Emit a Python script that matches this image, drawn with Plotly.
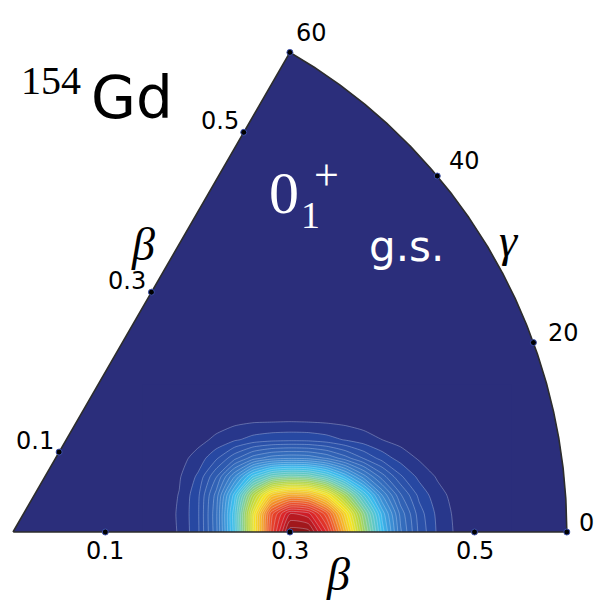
import numpy as np
import plotly.graph_objects as go

# ---- data -------------------------------------------------------------
beta_max = 0.6
gamma_max = 60
beta_ticks = [0.1, 0.3, 0.5]
gamma_ticks = [0, 20, 40, 60]

# collective density |psi|^2 on a cartesian (x = b cos g, y = b sin g) grid
grid_x = [0.14, 0.16, 0.18, 0.20, 0.22, 0.24, 0.26, 0.28, 0.30, 0.32, 0.34,
          0.36, 0.38, 0.40, 0.42, 0.44, 0.46, 0.48, 0.50, 0.52, 0.54]
grid_y = [0.00, 0.02, 0.04, 0.06, 0.08, 0.10, 0.12, 0.14, 0.16]
density = [
    [0, 0.006, 0.022, 0.063, 0.161, 0.334, 0.583, 0.830, 0.985, 0.980, 0.869, 0.685, 0.487, 0.310, 0.174, 0.089, 0.041, 0.016, 0.006, 0.002, 0],
    [0, 0.006, 0.023, 0.064, 0.163, 0.338, 0.582, 0.811, 0.919, 0.903, 0.801, 0.631, 0.449, 0.285, 0.161, 0.082, 0.038, 0.014, 0.005, 0.002, 0],
    [0, 0.006, 0.021, 0.062, 0.154, 0.308, 0.504, 0.655, 0.706, 0.693, 0.615, 0.484, 0.344, 0.219, 0.123, 0.063, 0.029, 0.011, 0.004, 0.001, 0],
    [0, 0.005, 0.017, 0.049, 0.117, 0.219, 0.331, 0.404, 0.426, 0.417, 0.370, 0.291, 0.207, 0.132, 0.074, 0.038, 0.017, 0.007, 0.002, 0.001, 0],
    [0, 0.003, 0.011, 0.029, 0.065, 0.112, 0.158, 0.184, 0.192, 0.188, 0.167, 0.131, 0.093, 0.059, 0.034, 0.017, 0.008, 0.003, 0.001, 0, 0],
    [0, 0.002, 0.005, 0.012, 0.025, 0.041, 0.054, 0.061, 0.063, 0.062, 0.055, 0.043, 0.031, 0.020, 0.011, 0.006, 0.003, 0.001, 0, 0, 0],
    [0, 0.001, 0.002, 0.005, 0.009, 0.013, 0.017, 0.018, 0.019, 0.018, 0.016, 0.013, 0.009, 0.006, 0.003, 0.002, 0.001, 0, 0, 0, 0],
    [0, 0, 0.001, 0.001, 0.002, 0.003, 0.004, 0.004, 0.004, 0.004, 0.004, 0.003, 0.002, 0.001, 0.001, 0, 0, 0, 0, 0, 0],
    [0, 0, 0, 0, 0, 0, 0, 0, 0, 0, 0, 0, 0, 0, 0, 0, 0, 0, 0, 0, 0],
]

# ---- style --------------------------------------------------------------
NAVY = "rgb(43,46,123)"
W, H = 599, 604
X0, Y0, SCALE = 13, 532, 923          # pixel position of the origin, px per unit beta

colorscale = [
    [0.000, NAVY],
    [0.008, NAVY],
    [0.018, "rgb(36,64,156)"],
    [0.060, "rgb(42,80,168)"],
    [0.120, "rgb(50,100,182)"],
    [0.180, "rgb(56,122,198)"],
    [0.240, "rgb(60,152,218)"],
    [0.300, "rgb(58,190,238)"],
    [0.400, "rgb(108,204,178)"],
    [0.500, "rgb(175,214,68)"],
    [0.600, "rgb(246,230,30)"],
    [0.700, "rgb(248,170,35)"],
    [0.800, "rgb(238,82,40)"],
    [0.900, "rgb(215,30,40)"],
    [1.000, "rgb(128,20,20)"],
]


def pol(beta, gamma_deg):
    g = np.deg2rad(gamma_deg)
    return beta * np.cos(g), beta * np.sin(g)


# sector outline: origin -> gamma=0 -> arc -> gamma=60 -> origin
arc_g = np.linspace(0, gamma_max, 361)
arc_x, arc_y = pol(beta_max, arc_g)
sx = np.concatenate([[0.0], arc_x, [0.0]])
sy = np.concatenate([[0.0], arc_y, [0.0]])
sector_path = "M " + " L ".join(f"{a:.5f},{b:.5f}" for a, b in zip(sx, sy)) + " Z"

fig = go.Figure()

fig.add_trace(go.Contour(
    x=grid_x, y=grid_y, z=density,
    zmin=0, zmax=1, zauto=False,
    colorscale=colorscale, showscale=False,
    contours=dict(start=0.02, end=1.0, size=0.025, coloring="fill"),
    line=dict(color="rgba(225,235,255,0.4)", width=0.8, smoothing=0.6),
    hoverinfo="skip",
))

fig.add_trace(go.Scatter(x=sx, y=sy, mode="lines",
                         line=dict(color="rgb(45,45,45)", width=1.6),
                         hoverinfo="skip", showlegend=False))

# tick markers on the three edges
tx, ty = [], []
for b in beta_ticks:
    tx.append(b); ty.append(0.0)
    px_, py_ = pol(b, gamma_max)
    tx.append(px_); ty.append(py_)
for g in gamma_ticks:
    px_, py_ = pol(beta_max, g)
    tx.append(px_); ty.append(py_)
fig.add_trace(go.Scatter(x=tx, y=ty, mode="markers",
                         marker=dict(size=6, color="black",
                                     line=dict(color="rgb(60,80,170)", width=1)),
                         hoverinfo="skip", showlegend=False))

ann = []
tick_font = dict(family="DejaVu Sans", size=24, color="black")
for b in beta_ticks:
    ann.append(dict(x=b, y=0, text=f"{b:.1f}", showarrow=False, font=tick_font,
                    xanchor="center", yanchor="middle", yshift=-19))
    px_, py_ = pol(b, gamma_max)
    ann.append(dict(x=px_, y=py_, text=f"{b:.1f}", showarrow=False, font=tick_font,
                    xanchor="center", yanchor="middle", xshift=-24, yshift=11))
gamma_shift = {0: (20, 9), 20: (30, 10), 40: (27, 15), 60: (22, 19)}
for g in gamma_ticks:
    px_, py_ = pol(beta_max, g)
    dx, dy = gamma_shift[g]
    ann.append(dict(x=px_, y=py_, text=str(g), showarrow=False, font=tick_font,
                    xanchor="center", yanchor="middle", xshift=dx, yshift=dy))


def paper(px_, py_, text, family, size, color="black", italic=False):
    return dict(x=px_ / W, y=1 - py_ / H, xref="paper", yref="paper",
                text=f"<i>{text}</i>" if italic else text, showarrow=False,
                xanchor="center", yanchor="middle",
                font=dict(family=family, size=size, color=color))


ann += [
    paper(338, 574, "β", "Liberation Serif", 46, italic=True),
    paper(143, 244, "β", "Liberation Serif", 46, italic=True),
    paper(509, 240, "γ", "Liberation Serif", 46, italic=True),
    paper(51, 81, "154", "Liberation Serif", 40),
    paper(132, 98, "Gd", "DejaVu Sans", 58),
    paper(284, 193, "0", "Liberation Serif", 60, color="white"),
    paper(310, 215, "1", "Liberation Serif", 38, color="white"),
    paper(326, 176, "+", "Liberation Serif", 44, color="white"),
    paper(407, 247, "g.s.", "DejaVu Sans", 42, color="white"),
]

fig.update_layout(
    width=W, height=H,
    margin=dict(l=0, r=0, t=0, b=0),
    paper_bgcolor="white", plot_bgcolor="white",
    showlegend=False,
    xaxis=dict(visible=False, range=[-X0 / SCALE, (W - X0) / SCALE], fixedrange=True),
    yaxis=dict(visible=False, range=[-(H - Y0) / SCALE, Y0 / SCALE], fixedrange=True),
    shapes=[dict(type="path", path=sector_path, xref="x", yref="y",
                 fillcolor=NAVY, line=dict(width=0), layer="below")],
    annotations=ann,
)

fig.write_html("out.html")
